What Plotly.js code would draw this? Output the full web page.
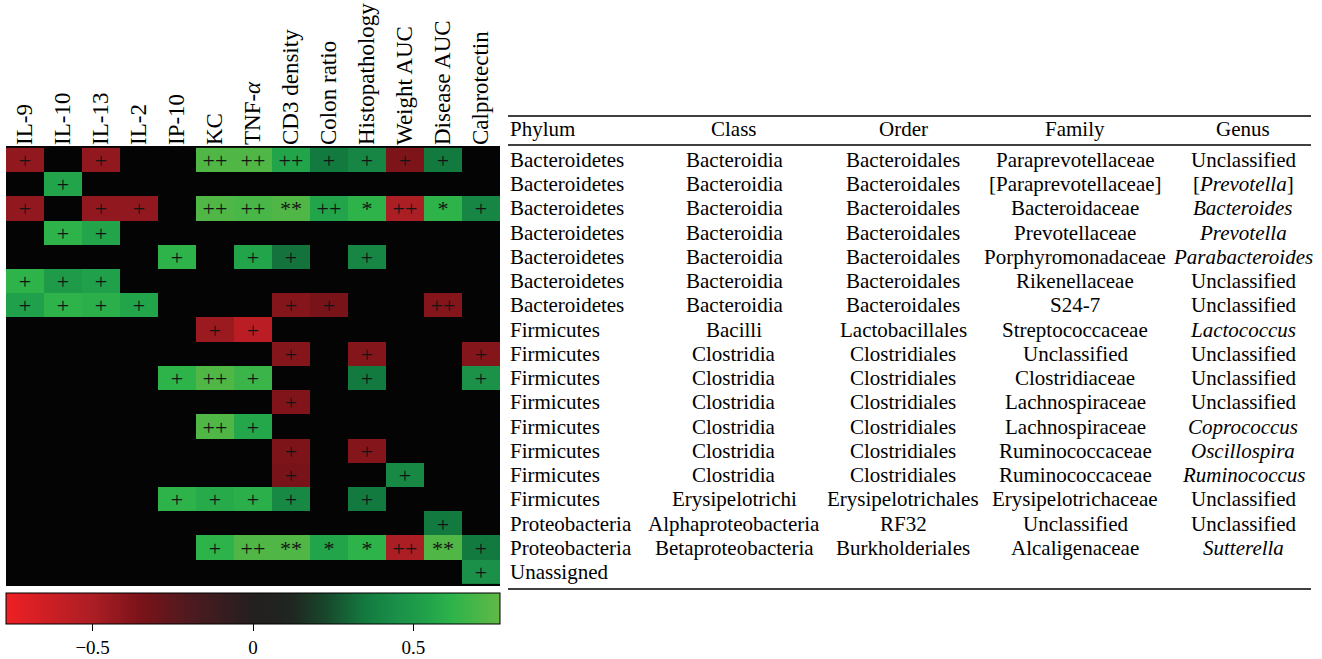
<!DOCTYPE html>
<html>
<head>
<meta charset="utf-8">
<script src="https://cdn.plot.ly/plotly-3.0.1.min.js"></script>
<style>html,body{margin:0;padding:0;background:#fff;}#chart{width:1322px;height:659px;}</style>
</head>
<body>
<div id="chart"></div>
<script>
// ---------- DATA ----------
const variables = ["IL-9","IL-10","IL-13","IL-2","IP-10","KC","TNF-<i>α</i>","CD3 density","Colon ratio","Histopathology","Weight AUC","Disease AUC","Calprotectin"];
const rowIds = [0,1,2,3,4,5,6,7,8,9,10,11,12,13,14,15,16,17];

// correlation values (null = not significant), rows = taxa, columns = variables
const correlations = [
  [-0.42, null, -0.42, null, null, 0.72, 0.72, 0.55, 0.35, 0.40, -0.36, 0.35, null],
  [null, 0.55, null, null, null, null, null, null, null, null, null, null, null],
  [-0.42, null, -0.42, -0.42, null, 0.72, 0.70, 0.72, 0.55, 0.62, -0.50, 0.62, 0.40],
  [null, 0.62, 0.55, null, null, null, null, null, null, null, null, null, null],
  [null, null, null, null, 0.62, null, 0.55, 0.33, null, 0.40, null, null, null],
  [0.62, 0.50, 0.53, null, null, null, null, null, null, null, null, null, null],
  [0.53, 0.62, 0.60, 0.55, null, null, null, -0.38, -0.34, null, null, -0.38, null],
  [null, null, null, null, null, -0.45, -0.56, null, null, null, null, null, null],
  [null, null, null, null, null, null, null, -0.38, null, -0.38, null, null, -0.38],
  [null, null, null, null, 0.62, 0.72, 0.66, null, null, 0.35, null, null, 0.46],
  [null, null, null, null, null, null, null, -0.37, null, null, null, null, null],
  [null, null, null, null, null, 0.72, 0.56, null, null, null, null, null, null],
  [null, null, null, null, null, null, null, -0.36, null, -0.38, null, null, null],
  [null, null, null, null, null, null, null, -0.34, null, null, 0.42, null, null],
  [null, null, null, null, 0.62, 0.58, 0.60, 0.42, null, 0.35, null, null, null],
  [null, null, null, null, null, null, null, null, null, null, null, 0.35, null],
  [null, null, null, null, null, 0.62, 0.72, 0.72, 0.55, 0.62, -0.50, 0.72, 0.35],
  [null, null, null, null, null, null, null, null, null, null, null, null, 0.45]
];

// significance marks
const marks = [
  ["+","","+","","","++","++","++","+","+","+","+",""],
  ["","+","","","","","","","","","","",""],
  ["+","","+","+","","++","++","**","++","*","++","*","+"],
  ["","+","+","","","","","","","","","",""],
  ["","","","","+","","+","+","","+","","",""],
  ["+","+","+","","","","","","","","","",""],
  ["+","+","+","+","","","","+","+","","","++",""],
  ["","","","","","+","+","","","","","",""],
  ["","","","","","","","+","","+","","","+"],
  ["","","","","+","++","+","","","+","","","+"],
  ["","","","","","","","+","","","","",""],
  ["","","","","","++","+","","","","","",""],
  ["","","","","","","","+","","+","","",""],
  ["","","","","","","","+","","","+","",""],
  ["","","","","+","+","+","+","","+","","",""],
  ["","","","","","","","","","","","+",""],
  ["","","","","","+","++","**","*","*","++","**","+"],
  ["","","","","","","","","","","","","+"]
];

const tableHeader = ["Phylum","Class","Order","Family","Genus"];
const phylum = ["Bacteroidetes","Bacteroidetes","Bacteroidetes","Bacteroidetes","Bacteroidetes","Bacteroidetes","Bacteroidetes","Firmicutes","Firmicutes","Firmicutes","Firmicutes","Firmicutes","Firmicutes","Firmicutes","Firmicutes","Proteobacteria","Proteobacteria","Unassigned"];
const taxClass = ["Bacteroidia","Bacteroidia","Bacteroidia","Bacteroidia","Bacteroidia","Bacteroidia","Bacteroidia","Bacilli","Clostridia","Clostridia","Clostridia","Clostridia","Clostridia","Clostridia","Erysipelotrichi","Alphaproteobacteria","Betaproteobacteria",""];
const taxOrder = ["Bacteroidales","Bacteroidales","Bacteroidales","Bacteroidales","Bacteroidales","Bacteroidales","Bacteroidales","Lactobacillales","Clostridiales","Clostridiales","Clostridiales","Clostridiales","Clostridiales","Clostridiales","Erysipelotrichales","RF32","Burkholderiales",""];
const family = ["Paraprevotellaceae","[Paraprevotellaceae]","Bacteroidaceae","Prevotellaceae","Porphyromonadaceae","Rikenellaceae","S24-7","Streptococcaceae","Unclassified","Clostridiaceae","Lachnospiraceae","Lachnospiraceae","Ruminococcaceae","Ruminococcaceae","Erysipelotrichaceae","Unclassified","Alcaligenaceae",""];
const genus = ["Unclassified","[<i>Prevotella</i>]","<i>Bacteroides</i>","<i>Prevotella</i>","<i>Parabacteroides</i>","Unclassified","Unclassified","<i>Lactococcus</i>","Unclassified","Unclassified","Unclassified","<i>Coprococcus</i>","<i>Oscillospira</i>","<i>Ruminococcus</i>","Unclassified","Unclassified","<i>Sutterella</i>",""];

const colorTicks = [-0.5, 0, 0.5];

// ---------- LAYOUT HELPERS ----------
const W = 1322, H = 659;
const px = x => x / W;
const py = y => 1 - y / H;
const SERIF = "Liberation Serif, Times New Roman, serif";
const zMax = 0.77;

const colorscale = [
  [0.000, "#ee2024"],
  [0.175, "#ab1e24"],
  [0.273, "#7a1319"],
  [0.370, "#4e1a1f"],
  [0.500, "#231f20"],
  [0.578, "#1f2620"],
  [0.643, "#18452a"],
  [0.727, "#137a3f"],
  [0.792, "#1a9048"],
  [0.857, "#22a44a"],
  [0.903, "#2db34a"],
  [1.000, "#62b946"]
];

const trace = {
  type: "heatmap",
  x: variables,
  y: rowIds,
  z: correlations,
  text: marks,
  texttemplate: "%{text}",
  textfont: {family: SERIF, size: 22, color: "#141414"},
  zmin: -zMax, zmax: zMax,
  colorscale: colorscale,
  xgap: 0, ygap: 0,
  hoverongaps: false,
  colorbar: {
    orientation: "h",
    thicknessmode: "pixels", thickness: 31,
    lenmode: "pixels", len: 494,
    x: px(253), xanchor: "center",
    y: py(593), yanchor: "top",
    xpad: 0, ypad: 0,
    outlinewidth: 1, outlinecolor: "#000",
    ticks: "outside", ticklen: 7, tickwidth: 1, tickcolor: "#000",
    tickvals: colorTicks,
    tickfont: {family: SERIF, size: 19, color: "#000"}
  }
};

const TABLE_FONT = {family: SERIF, size: 21, color: "#000"};
const annotations = [];
const colX = [508, 734, 903, 1075, 1243];
const colAnchor = ["left","center","center","center","center"];
tableHeader.forEach((h, i) => {
  annotations.push({
    xref: "paper", yref: "paper", x: px(colX[i]), y: py(129),
    xanchor: colAnchor[i], yanchor: "middle", showarrow: false,
    text: h, font: TABLE_FONT
  });
});
const tableCols = [phylum, taxClass, taxOrder, family, genus];
tableCols.forEach((col, i) => {
  col.forEach((t, r) => {
    if (!t) return;
    annotations.push({
      xref: "paper", yref: "y", x: px(colX[i]), y: rowIds[r],
      xanchor: colAnchor[i], yanchor: "middle", showarrow: false,
      text: t, font: TABLE_FONT
    });
  });
});

const lineStyle = {color: "#000", width: 1.5};
const shapes = [
  {type: "line", xref: "paper", yref: "paper", x0: px(508), x1: px(1311), y0: py(116), y1: py(116), line: lineStyle},
  {type: "line", xref: "paper", yref: "paper", x0: px(508), x1: px(1311), y0: py(145), y1: py(145), line: lineStyle},
  {type: "line", xref: "paper", yref: "paper", x0: px(508), x1: px(1311), y0: py(589), y1: py(589), line: lineStyle}
];

const layout = {
  width: W, height: H,
  margin: {l: 0, r: 0, t: 0, b: 0, autoexpand: false},
  paper_bgcolor: "#fff",
  plot_bgcolor: "#040404",
  showlegend: false,
  xaxis: {
    domain: [px(6), px(500)],
    side: "top", type: "category",
    tickangle: -90,
    automargin: false,
    tickfont: {family: SERIF, size: 23, color: "#000"},
    ticks: "", showgrid: false, zeroline: false, showline: false,
    fixedrange: true
  },
  yaxis: {
    domain: [py(586), py(146)],
    autorange: "reversed",
    automargin: false,
    showticklabels: false, ticks: "", showgrid: false, zeroline: false, showline: false,
    fixedrange: true
  },
  annotations: annotations,
  shapes: shapes
};

Plotly.newPlot("chart", [trace], layout, {displayModeBar: false, staticPlot: true});
</script>
</body>
</html>
